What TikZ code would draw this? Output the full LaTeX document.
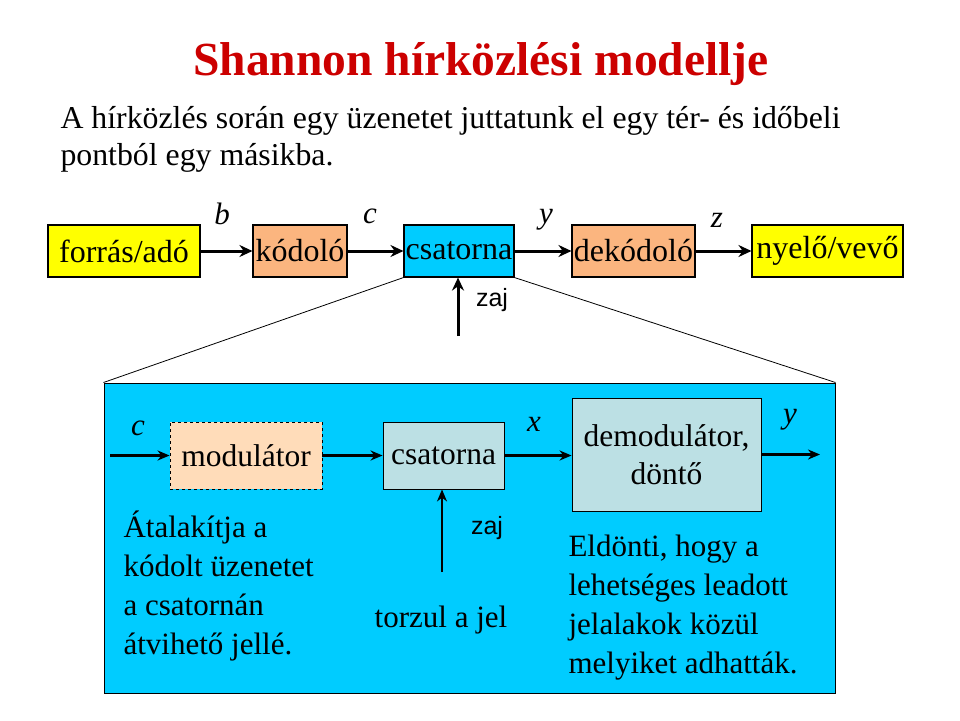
\documentclass[tikz,border=0pt]{standalone}
\usepackage{fontspec}
\setmainfont{Liberation Serif}
\newfontfamily\zajfont{Liberation Sans}
\usetikzlibrary{arrows.meta}
\definecolor{titlered}{RGB}{204,0,0}
\definecolor{yel}{RGB}{255,255,0}
\definecolor{orng}{RGB}{251,181,127}
\definecolor{cyn}{RGB}{0,204,255}
\definecolor{peach}{RGB}{255,220,185}
\definecolor{grayblue}{RGB}{188,224,228}
\begin{document}
\begin{tikzpicture}[x=1pt,y=-1pt,
  box/.style={draw=black, line width=1.1pt, inner sep=0pt, font=\fontsize{32}{36}\selectfont},
  ibox/.style={draw=black, line width=0.9pt, inner sep=0pt, font=\fontsize{31.5}{38}\selectfont, align=center},
  arr/.style={-{Stealth[length=13pt,width=12pt]}, line width=3pt},
  iarr/.style={-{Stealth[length=12pt,width=10pt]}, line width=2.2pt},
  sym/.style={font=\fontsize{31}{33}\selectfont\itshape},
  txt/.style={font=\fontsize{31}{39}\selectfont, align=left},
  zaj/.style={font=\zajfont\fontsize{25}{27}\selectfont}]
\useasboundingbox (0,0) rectangle (960,720);
\fill[white] (0,0) rectangle (960,720);

\node[font=\bfseries\fontsize{47.5}{52}\selectfont, text=titlered] (title) at (481,64) {Shannon hírközlési modellje};
\node[anchor=west, align=left, font=\fontsize{31.8}{37}\selectfont] (intro) at (57,139)
  {A hírközlés során egy üzenetet juttatunk el egy tér- és időbeli\\pontból egy másikba.};

% top row
\node[box, fill=yel, minimum width=152pt, minimum height=52pt] (src) at (124,251) {forrás/adó};
\node[box, fill=orng, minimum width=94pt, minimum height=52pt] (enc) at (300,251) {kódoló};
\node[box, fill=cyn, minimum width=110pt, minimum height=52pt] (ch) at (459,251) {csatorna};
\node[box, fill=orng, minimum width=123pt, minimum height=52pt] (dec) at (633.5,251) {dekódoló};
\node[box, fill=yel, minimum width=151pt, minimum height=52pt] (sink) at (827.5,251) {nyelő/vevő};

\draw[arr] (src) -- (enc);
\draw[arr] (enc) -- (ch);
\draw[arr] (ch) -- (dec);
\draw[arr] (dec) -- (sink);

\node[sym] (lb) at (222,214) {b};
\node[sym] (lc) at (370,216) {c};
\node[sym] (ly) at (546,220) {y};
\node[sym] (lz) at (717,220) {z};

\coordinate (n1) at (458,336);
\draw[arr] (n1) -- (n1 |- ch.south);
\node[zaj] (z1) at (492,300) {zaj};

% big box
\node[draw=black, fill=cyn, line width=1pt, minimum width=731pt, minimum height=310pt, inner sep=0pt] (big) at (469.5,538) {};
\draw[line width=0.8pt] (ch.south west) -- (big.north west);
\draw[line width=0.8pt] (ch.south east) -- (big.north east);

% inner
\node[ibox, dashed, fill=peach, minimum width=152pt, minimum height=67pt] (mod) at (246,455.5) {modulátor};
\node[ibox, fill=grayblue, minimum width=121pt, minimum height=67pt] (ich) at (443.5,455.5) {csatorna};
\node[ibox, fill=grayblue, minimum width=189pt, minimum height=113pt] (dem) at (666.5,454.5) {demodulátor,\\döntő};

\coordinate (cin) at (110,455.5);
\coordinate (yout) at (820,454.5);
\draw[iarr] (cin) -- (mod);
\draw[iarr] (mod) -- (ich);
\draw[iarr] (ich) -- (ich -| dem.west);
\draw[iarr] (dem) -- (yout);

\node[sym] (ic) at (138,428) {c};
\node[sym] (ix) at (534,424) {x};
\node[sym] (iy) at (790,420) {y};

\coordinate (n2) at (442,572);
\draw[iarr] (n2) -- (n2 |- ich.south);
\node[zaj] (z2) at (487,528) {zaj};

\node[txt, anchor=west] (ltxt) at (120,586) {Átalakítja a\\kódolt üzenetet\\a csatornán\\átvihető jellé.};
\node[txt, anchor=center] (mtxt) at (441,620) {torzul a jel};
\node[txt, anchor=west] (rtxt) at (565,608) {Eldönti, hogy a\\lehetséges leadott\\jelalakok közül\\melyiket adhatták.};
\end{tikzpicture}
\end{document}
